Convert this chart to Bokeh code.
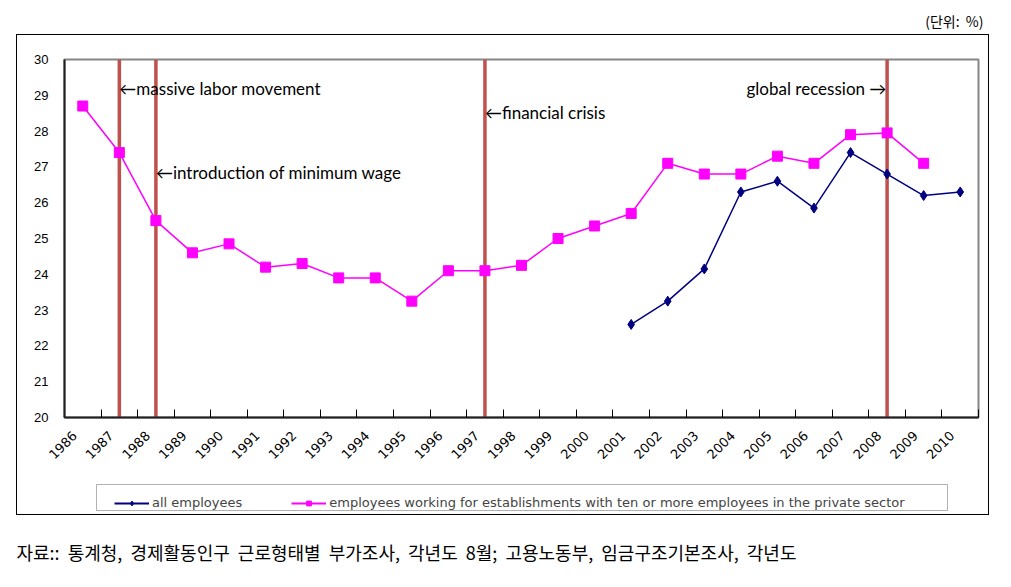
import math
from bokeh.plotting import figure
from bokeh.layouts import column
from bokeh.models import (FixedTicker, Range1d, Label, Legend, LegendItem, ColumnDataSource,
                          BoxAnnotation)
from bokeh.embed import file_html
from bokeh.resources import INLINE

nan = float("nan")

years = ["1986", "1987", "1988", "1989", "1990", "1991", "1992", "1993", "1994",
         "1995", "1996", "1997", "1998", "1999", "2000", "2001", "2002", "2003",
         "2004", "2005", "2006", "2007", "2008", "2009", "2010"]

all_employees = [nan, nan, nan, nan, nan, nan, nan, nan, nan, nan, nan, nan, nan, nan, nan,
                 22.6, 23.25, 24.15, 26.3, 26.6, 25.85, 27.4, 26.8, 26.2, 26.3]

private_10plus = [28.7, 27.4, 25.5, 24.6, 24.85, 24.2, 24.3, 23.9, 23.9, 23.25, 24.1, 24.1,
                  24.25, 25.0, 25.35, 25.7, 27.1, 26.8, 26.8, 27.3, 27.1, 27.9, 27.95, 27.1, nan]

event_years = ["1987", "1988", "1997", "2008"]
event_texts = ["\u2190massive labor movement", "\u2190introduction of minimum wage",
               "\u2190financial crisis", "global recession \u2192"]

series_names = ["all employees",
                "employees working for establishments with ten or more employees in the private sector"]
SP = "\u00a0\u00a0"
unit_text = "(단위:" + SP + "%)"
source_text = SP.join(["자료::", "통계청,", "경제활동인구", "근로형태별", "부가조사,", "각년도",
                       "8월;", "고용노동부,", "임금구조기본조사,", "각년도"])

NAVY = "#000080"
MAGENTA = "#FF00FF"

xs = [i + 0.5 for i in range(len(years))]
src = ColumnDataSource(dict(x=xs, a=all_employees, b=private_10plus))


def bare(width, height, **kw):
    f = figure(width=width, height=height, output_backend="svg", toolbar_location=None,
               x_axis_type=None, y_axis_type=None, min_border=0,
               outline_line_color=None, **kw)
    f.grid.visible = False
    return f


# ---- unit text strip ----
top = bare(1000, 34, x_range=Range1d(0, 1), y_range=Range1d(0, 1))
top.add_layout(Label(x=983, y=14, x_units="screen", y_units="screen", text=unit_text,
                     text_align="right", text_baseline="middle",
                     text_font="Noto Sans CJK KR", text_font_size="14px", text_color="black"))

# ---- main chart ----
p = figure(frame_width=914, frame_height=358, output_backend="svg", toolbar_location=None,
           x_range=Range1d(0, len(years)), y_range=Range1d(20, 30),
           min_border_left=47, min_border_right=10, min_border_top=24, min_border_bottom=66,
           background_fill_color="white", border_fill_color="white")
p.xgrid.visible = False
p.ygrid.visible = False
p.outline_line_color = "#868686"
p.outline_line_width = 2

for yr in event_years:
    ex = years.index(yr) + 0.5
    p.segment(x0=[ex], y0=[20], x1=[ex], y1=[30], line_color="#C0504D", line_width=3.5)

la = p.line("x", "a", source=src, line_color=NAVY, line_width=1.5)
sa = p.scatter("x", "a", source=src, marker="diamond", size=10, fill_color=NAVY, line_color=NAVY)
lb = p.line("x", "b", source=src, line_color=MAGENTA, line_width=1.5)
sb = p.scatter("x", "b", source=src, marker="square", size=10, fill_color=MAGENTA,
               line_color=MAGENTA)

ya = p.yaxis[0]
ya.ticker = FixedTicker(ticks=list(range(20, 31)))
ya.major_tick_in = 0
ya.major_tick_out = 0
ya.minor_tick_line_color = None
ya.major_label_standoff = 16
ya.axis_line_color = "#202020"
ya.axis_line_width = 2
ya.major_label_text_font = "Liberation Sans"
ya.major_label_text_font_size = "13px"
ya.major_label_text_color = "black"

label_ticks = [i + 0.28 for i in range(len(years))]
xa = p.xaxis[0]
xa.ticker = FixedTicker(ticks=label_ticks, minor_ticks=list(range(len(years) + 1)))
xa.major_label_overrides = {x: y for x, y in zip(label_ticks, years)}
xa.major_tick_line_color = None
xa.minor_tick_in = 8
xa.minor_tick_out = 0
xa.minor_tick_line_color = "black"
xa.axis_line_color = "#202020"
xa.axis_line_width = 2
xa.major_label_orientation = math.pi / 4
xa.major_label_standoff = 10
xa.major_label_text_font = "DejaVu Sans"
xa.major_label_text_font_size = "13px"
xa.major_label_text_color = "black"

ev_y = [29.19, 26.84, 28.52, 29.19]
for yr, txt, yy in zip(event_years, event_texts, ev_y):
    ex = years.index(yr) + 0.5
    right = txt.endswith("\u2192")
    p.add_layout(Label(x=ex + (-0.02 if right else 0.0), y=yy, text=txt,
                       text_align="right" if right else "left", text_baseline="middle",
                       text_font="Lato", text_font_size="17px", text_color="black"))

# ---- legend strip (its frame lines up with the chart frame in the column) ----
lg = bare(971, 31, x_range=Range1d(-10, -9), y_range=Range1d(-10, -9))
lg.add_layout(BoxAnnotation(left=32, right=883, bottom=4, top=30,
                            left_units="screen", right_units="screen",
                            bottom_units="screen", top_units="screen",
                            fill_color=None, line_color="black", line_width=1))
ga = lg.line("x", "a", source=src, line_color=NAVY, line_width=2)
gsa = lg.scatter("x", "a", source=src, marker="diamond", size=10, fill_color=NAVY, line_color=NAVY)
gb = lg.line("x", "b", source=src, line_color=MAGENTA, line_width=2)
gsb = lg.scatter("x", "b", source=src, marker="square", size=9, fill_color=MAGENTA,
                 line_color=MAGENTA)
legend = Legend(items=[LegendItem(label=series_names[0], renderers=[ga, gsa]),
                       LegendItem(label=series_names[1], renderers=[gb, gsb])],
                orientation="horizontal", location=(50, 4),
                border_line_color=None, background_fill_color=None,
                label_text_font="DejaVu Sans", label_text_font_size="13px",
                glyph_width=35, glyph_height=12, label_standoff=3, spacing=49,
                padding=3, margin=0)
lg.add_layout(legend, "center")

boxed = column(p, lg, spacing=0, margin=(0, 0, 0, 16),
               styles={"border": "1px solid black"})

# ---- source strip ----
bottom = bare(1000, 50, x_range=Range1d(0, 1), y_range=Range1d(0, 1))
bottom.add_layout(Label(x=16, y=14, x_units="screen", y_units="screen", text=source_text,
                        text_align="left", text_baseline="middle",
                        text_font="Noto Sans CJK KR", text_font_size="18px", text_color="black"))

layout = column(top, boxed, bottom, spacing=0)
open("out.html", "w").write(file_html(layout, INLINE))
